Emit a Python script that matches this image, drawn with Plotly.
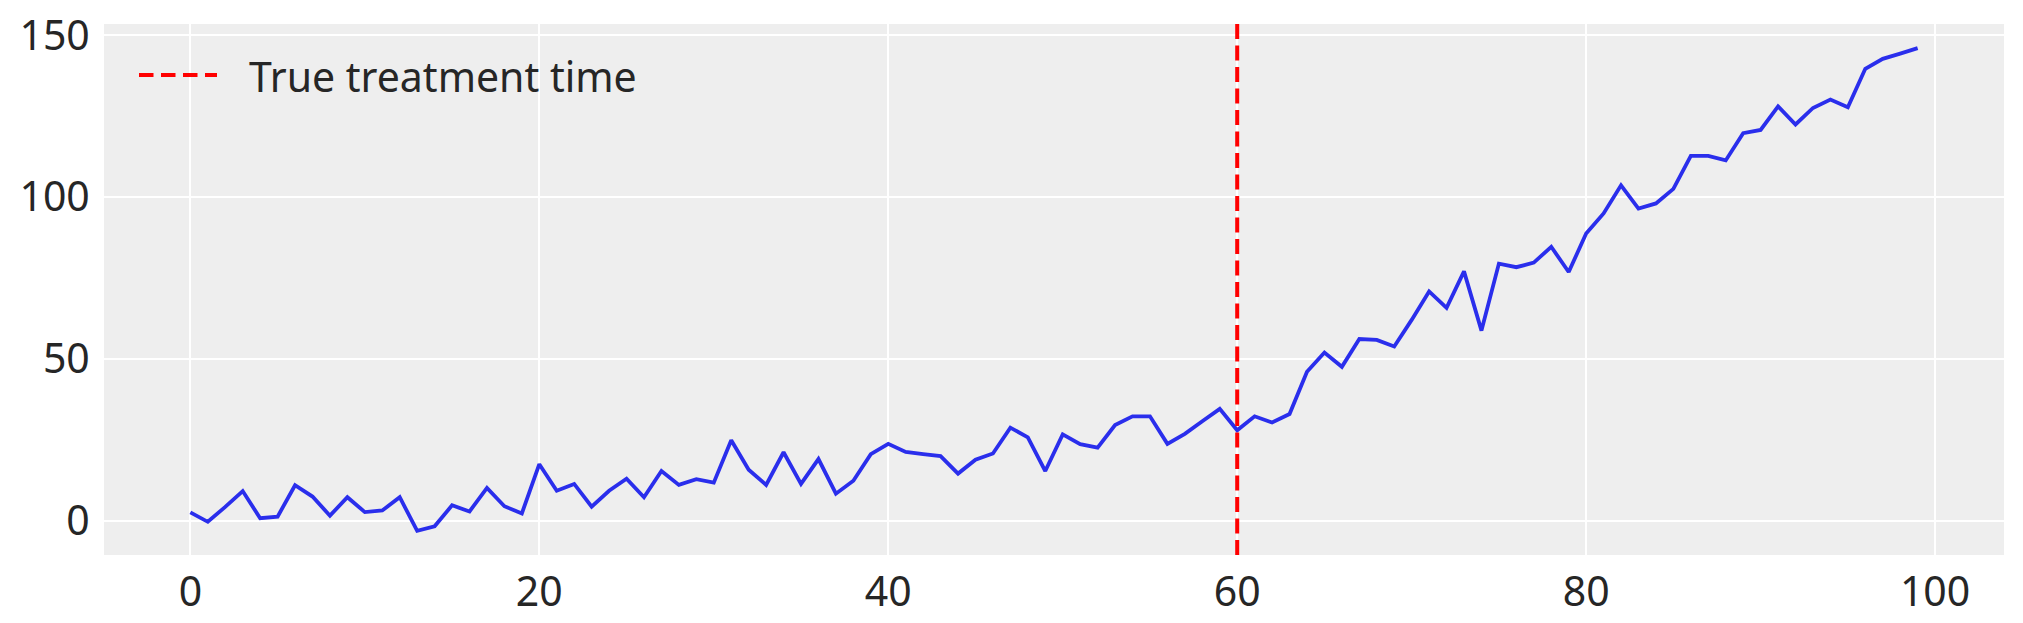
import plotly.graph_objects as go

time_index = list(range(100))
observed = [
    2.5, -0.4, 4.2, 9.1, 0.7, 1.2, 10.9, 7.4, 1.5, 7.2,
    2.6, 3.1, 7.2, -3.2, -1.8, 4.7, 2.8, 10.1, 4.4, 2.2,
    17.4, 9.2, 11.3, 4.3, 9.2, 12.9, 7.2, 15.3, 11.0, 12.8,
    11.7, 24.8, 15.7, 11.0, 21.1, 11.3, 19.0, 8.3, 12.3, 20.5,
    23.7, 21.2, 20.5, 19.9, 14.5, 18.8, 20.7, 28.7, 25.7, 15.3,
    26.6, 23.6, 22.5, 29.5, 32.2, 32.2, 23.7, 26.8, 30.7, 34.5,
    27.9, 32.2, 30.3, 32.9, 46.0, 51.9, 47.5, 56.1, 55.8, 53.8,
    62.0, 70.8, 65.7, 77.0, 58.7, 79.4, 78.3, 79.7, 84.6, 76.8,
    88.7, 94.9, 103.6, 96.4, 98.0, 102.5, 112.7, 112.7, 111.3, 119.7,
    120.7, 128.0, 122.4, 127.5, 130.1, 127.7, 139.6, 142.7, 144.3, 146.0,
]
treatment_time = 60
legend_label = "True treatment time"
x_ticks = [0, 20, 40, 60, 80, 100]
y_ticks = [0, 50, 100, 150]

# page is offset by the default 8px body margin
OFF = 8
W, H = 2023 - OFF, 623 - OFF
L, T = 104 - OFF, 24 - OFF
R = W - (2004 - OFF)
B = H - (555 - OFF)
pw, ph = W - L - R, H - T - B

def px_to_paper_x(px):
    return (px - OFF - L) / pw

def py_to_paper_y(py):
    return (H - B - (py - OFF)) / ph

xmin, xmax = min(time_index), max(time_index)
ymin, ymax = min(observed), max(observed)
xpad = (xmax - xmin) * 0.05
ypad = (ymax - ymin) * 0.05

font = "Noto Sans"
txt = "#262626"
red_dash = "15px,6.5px"

fig = go.Figure()
fig.add_trace(go.Scatter(x=time_index, y=observed, mode="lines",
                         line=dict(color="#2a2eec", width=3.8), showlegend=False))

fig.add_shape(type="line", xref="x", yref="paper", x0=treatment_time, x1=treatment_time,
              y0=0, y1=1, line=dict(color="#ff0000", width=4, dash=red_dash))

# manual legend (no frame)
ly = py_to_paper_y(75)
fig.add_shape(type="line", xref="paper", yref="paper",
              x0=px_to_paper_x(139), x1=px_to_paper_x(217), y0=ly, y1=ly,
              line=dict(color="#ff0000", width=4, dash="14.5px,7.5px"))
fig.add_annotation(xref="paper", yref="paper", x=px_to_paper_x(247), y=py_to_paper_y(76),
                   xanchor="left", yanchor="middle", text=legend_label, showarrow=False,
                   font=dict(family=font, size=41, color=txt))

axis_common = dict(showgrid=True, gridcolor="white", gridwidth=2.4, zeroline=False,
                   showline=False, ticks="outside", tickcolor="rgba(0,0,0,0)",
                   ticklabeloverflow="allow", automargin=False,
                   tickfont=dict(family=font, size=41, color=txt))
fig.update_xaxes(range=[xmin - xpad, xmax + xpad], tickvals=x_ticks, ticklen=1, **axis_common)
fig.update_yaxes(range=[ymin - ypad, ymax + ypad], tickvals=y_ticks, ticklen=5, **axis_common)

fig.update_layout(width=W, height=H, margin=dict(l=L, r=R, t=T, b=B),
                  paper_bgcolor="white", plot_bgcolor="#eeeeee", showlegend=False)

fig.write_html("out.html")
